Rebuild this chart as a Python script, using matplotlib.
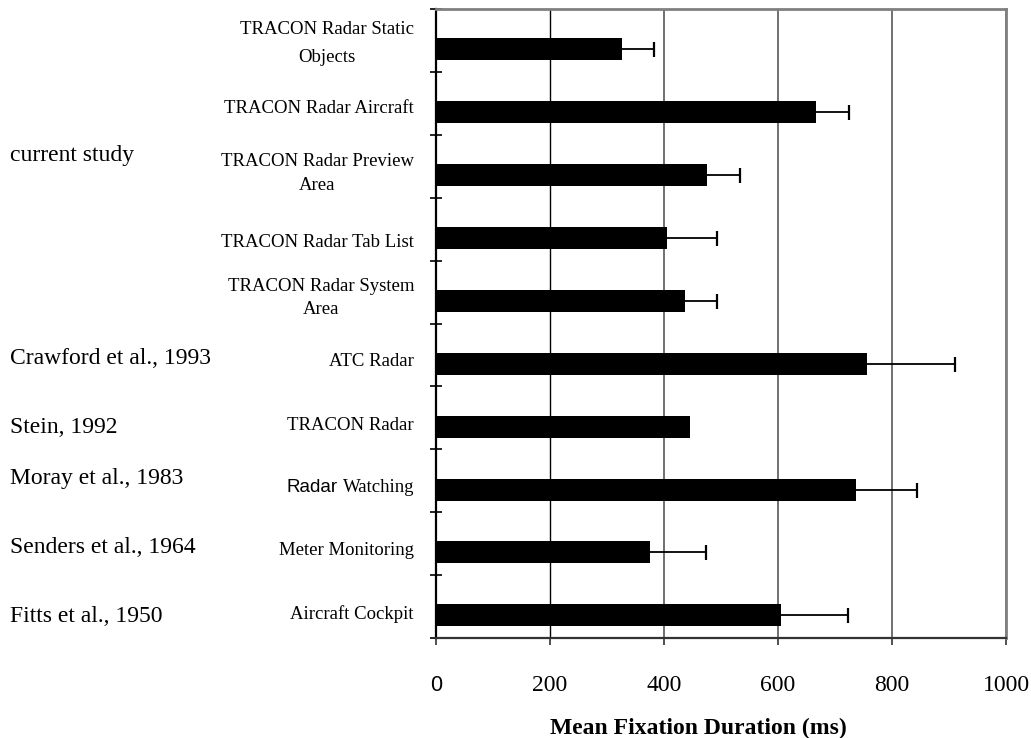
import numpy as np
import matplotlib
matplotlib.use('Agg')
import matplotlib.pyplot as plt
from matplotlib.offsetbox import TextArea, HPacker, AnnotationBbox

plt.rcParams['font.family'] = 'Liberation Serif'

# Datos: duracion media de fijacion por tipo de tarea (de arriba hacia abajo)
categories = ['TRACON Radar Static\nObjects', 'TRACON Radar Aircraft',
              'TRACON Radar Preview\nArea', 'TRACON Radar Tab List',
              'TRACON Radar System\nArea', 'ATC Radar', 'TRACON Radar',
              'Radar Watching', 'Meter Monitoring', 'Aircraft Cockpit']
mean_fixation = [326, 667, 476, 406, 436, 757, 446, 737, 376, 605]
error_plus = [57, 57, 58, 87, 57, 154, 0, 106, 97, 118]

studies = ['current study', 'Crawford et al., 1993', 'Stein, 1992',
           'Moray et al., 1983', 'Senders et al., 1964', 'Fitts et al., 1950']
study_rows = [2, 5, 6, 7, 8, 9]

x_ticks = [0, 200, 400, 600, 800, 1000]

# Ajustes verticales de las etiquetas (pixeles hacia abajo)
label_dy = [3.5, 5.5, 7, 13.5, 6, 7, 7.5, 7, 7, 8]
label_spacing = [1.85, 1.2, 1.5, 1.2, 1.5, 1.2, 1.2, 1.2, 1.2, 1.2]
study_dy = [-11, 4, 10, -2, 4, 10]

fig = plt.figure(figsize=(10.31, 7.38), dpi=100)
ax = fig.add_axes([436 / 1031, 100 / 738, 570 / 1031, 629 / 738])

n = len(categories)
rows = np.arange(n)
bar_y = rows + 0.5 + 0.14

ax.barh(bar_y, mean_fixation, height=0.35, color='black', zorder=3)

# Barras de error solo hacia la derecha, y solo donde hay error
err = np.array(error_plus)
has_err = err > 0
_, caps, _ = ax.errorbar(np.array(mean_fixation)[has_err], bar_y[has_err],
                         xerr=[np.zeros(has_err.sum()), err[has_err]],
                         fmt='none', ecolor='black', elinewidth=1.3,
                         capsize=5.4, capthick=1.6, zorder=4)
caps[0].set_visible(False)  # sin tope en el extremo de la barra

ax.set_xlim(0, 1000)
ax.set_ylim(n, 0)

# Rejilla vertical
ax.set_xticks(x_ticks)
ax.xaxis.grid(True, color='#707070', linewidth=1.4, zorder=0)
ax.set_axisbelow(True)
grid = ax.get_xgridlines()
grid[1].set_color('black')
grid[1].set_linewidth(1.0)

ax.set_xticklabels([str(t) for t in x_ticks], fontsize=17)
ax.get_xticklabels()[0].set_fontfamily('Liberation Sans')
ax.get_xticklabels()[0].set_fontsize(15.5)
ax.tick_params(axis='x', direction='out', length=5, width=1.2,
               color='#333333', pad=21.5)

ax.set_yticks(np.arange(n + 1))
ax.set_yticklabels([])
ax.tick_params(axis='y', direction='inout', length=8.5, width=1.2,
               color='black')

ax.spines['left'].set_color('black')
ax.spines['left'].set_linewidth(1.6)
ax.spines['bottom'].set_color('#333333')
ax.spines['bottom'].set_linewidth(1.6)
for s in ['top', 'right']:
    ax.spines[s].set_color('#808080')
    ax.spines[s].set_linewidth(2.0)

# Etiquetas de categoria
for i, lab in enumerate(categories):
    yc = i + 0.5
    if lab == 'Radar Watching':
        parts = HPacker(children=[
            TextArea('Radar', textprops=dict(family='Liberation Sans', size=13.5)),
            TextArea('Watching', textprops=dict(family='Liberation Serif', size=13.5)),
        ], sep=3.4, pad=0, align='baseline')
        ab = AnnotationBbox(parts, (0, yc), xycoords=('axes fraction', 'data'),
                            xybox=(-22, -label_dy[i]), boxcoords='offset pixels',
                            box_alignment=(1, 0.5), frameon=False, pad=0)
        ax.add_artist(ab)
    else:
        ax.annotate(lab, xy=(0, yc), xycoords=('axes fraction', 'data'),
                    xytext=(-22, -label_dy[i]), textcoords='offset pixels',
                    ha='right', va='center', multialignment='center',
                    fontsize=13.5, linespacing=label_spacing[i])

# Etiquetas de estudio
for s, r, dy in zip(studies, study_rows, study_dy):
    ax.annotate(s, xy=(10 / 1031, r + 0.5), xycoords=('figure fraction', 'data'),
                xytext=(0, -dy), textcoords='offset pixels',
                ha='left', va='center', fontsize=17)

fig.text(698 / 1031, 4 / 738, 'Mean Fixation Duration (ms)', ha='center',
         va='baseline', fontsize=17, fontweight='bold')

fig.savefig('out.png', dpi=100)
